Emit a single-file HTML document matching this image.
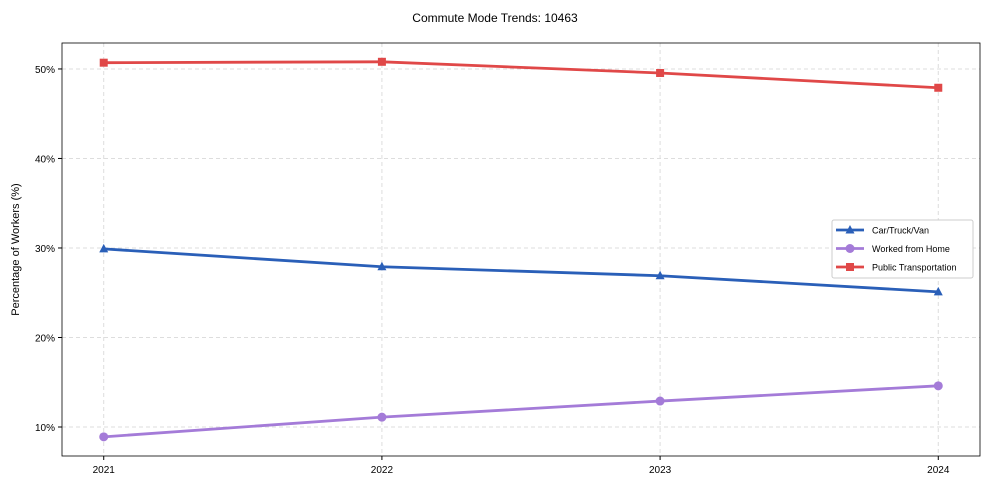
<!DOCTYPE html>
<html><head><meta charset="utf-8"><style>
body{margin:0;background:#fff;font-family:"Liberation Sans",sans-serif;}
</style></head><body>
<svg id="c" width="990" height="490" xmlns="http://www.w3.org/2000/svg"></svg>
<script>
const years=[2021,2022,2023,2024];
const car=[29.9,27.9,26.9,25.1];
const wfh=[8.9,11.1,12.9,14.6];
const pub=[50.7,50.8,49.55,47.9];
const yTicks=[10,20,30,40,50];
const yTickLabels=["10%","20%","30%","40%","50%"];
const L=62,R=980,T=43,B=456;
const xMin=2020.85,xMax=2024.15,yMin=6.76,yMax=52.9;
const X=v=>L+(v-xMin)/(xMax-xMin)*(R-L);
const Y=v=>B-(v-yMin)/(yMax-yMin)*(B-T);
const svg=document.getElementById('c');
const NS="http://www.w3.org/2000/svg";
function el(t,a,p){const e=document.createElementNS(NS,t);for(const k in a)e.setAttribute(k,a[k]);(p||svg).appendChild(e);return e;}
let e=el('text',{x:495,y:22,'text-anchor':'middle','font-size':12});e.textContent='Commute Mode Trends: 10463';

yTicks.forEach((v,i)=>{
 let g=el('line',{x1:L,x2:R,y1:Y(v),y2:Y(v),stroke:'#ddd','stroke-dasharray':'4,3'});
 
 el('line',{x1:L-4,x2:L,y1:Y(v),y2:Y(v),stroke:'#000'});
 let t=el('text',{x:L-7,y:Y(v)+4,'text-anchor':'end','font-size':10});t.textContent=yTickLabels[i];
 
});
years.forEach(v=>{
 let g=el('line',{y1:T,y2:B,x1:X(v),x2:X(v),stroke:'#ddd','stroke-dasharray':'4,3'});
 
 el('line',{y1:B,y2:B+4,x1:X(v),x2:X(v),stroke:'#000'});
 let t=el('text',{x:X(v),y:B+17,'text-anchor':'middle','font-size':10});t.textContent=v;
 
});
let f=el('rect',{x:L,y:T,width:R-L,height:B-T,fill:'none',stroke:'#000','stroke-width':0.8});

let yt=el('text',{x:19,y:(T+B)/2,'text-anchor':'middle','font-size':11,transform:`rotate(-90 19 ${(T+B)/2})`});yt.textContent='Percentage of Workers (%)';

function marker(type,x,y,c,p){
 if(type==='tri')return el('polygon',{points:`${x},${y-5} ${x-4.5},${y+3.5} ${x+4.5},${y+3.5}`,fill:c},p);
 if(type==='circ')return el('circle',{cx:x,cy:y,r:4.5,fill:c},p);
 return el('rect',{x:x-4,y:y-4,width:8,height:8,fill:c},p);
}
const series=[[car,'#2a5fb8','tri','car-truck-van'],[wfh,'#a47bd8','circ','worked-from-home'],[pub,'#e04848','sq','public-transportation']];
series.forEach(([d,c,m,n])=>{
 const g=el('g',{});
 el('polyline',{points:d.map((v,i)=>X(years[i])+','+Y(v)).join(' '),fill:'none',stroke:c,'stroke-width':2.8},g);
 d.forEach((v,i)=>{const k=marker(m,X(years[i]),Y(v),c,g);});
});
const lg=el('g',{});
el('rect',{x:832,y:220,width:141,height:58,fill:'#fff',stroke:'#ccc',rx:2},lg);
const names=['Car/Truck/Van','Worked from Home','Public Transportation'];
series.forEach(([d,c,m,n],i)=>{
 const y=230+i*18.5;
 const it=el('g',{},lg);
 el('line',{x1:836,x2:864,y1:y,y2:y,stroke:c,'stroke-width':2.8},it);
 marker(m,850,y,c,it);
 const t=el('text',{x:872,y:y+3.5,'font-size':9},it);t.textContent=names[i];
});
</script>
</body></html>
